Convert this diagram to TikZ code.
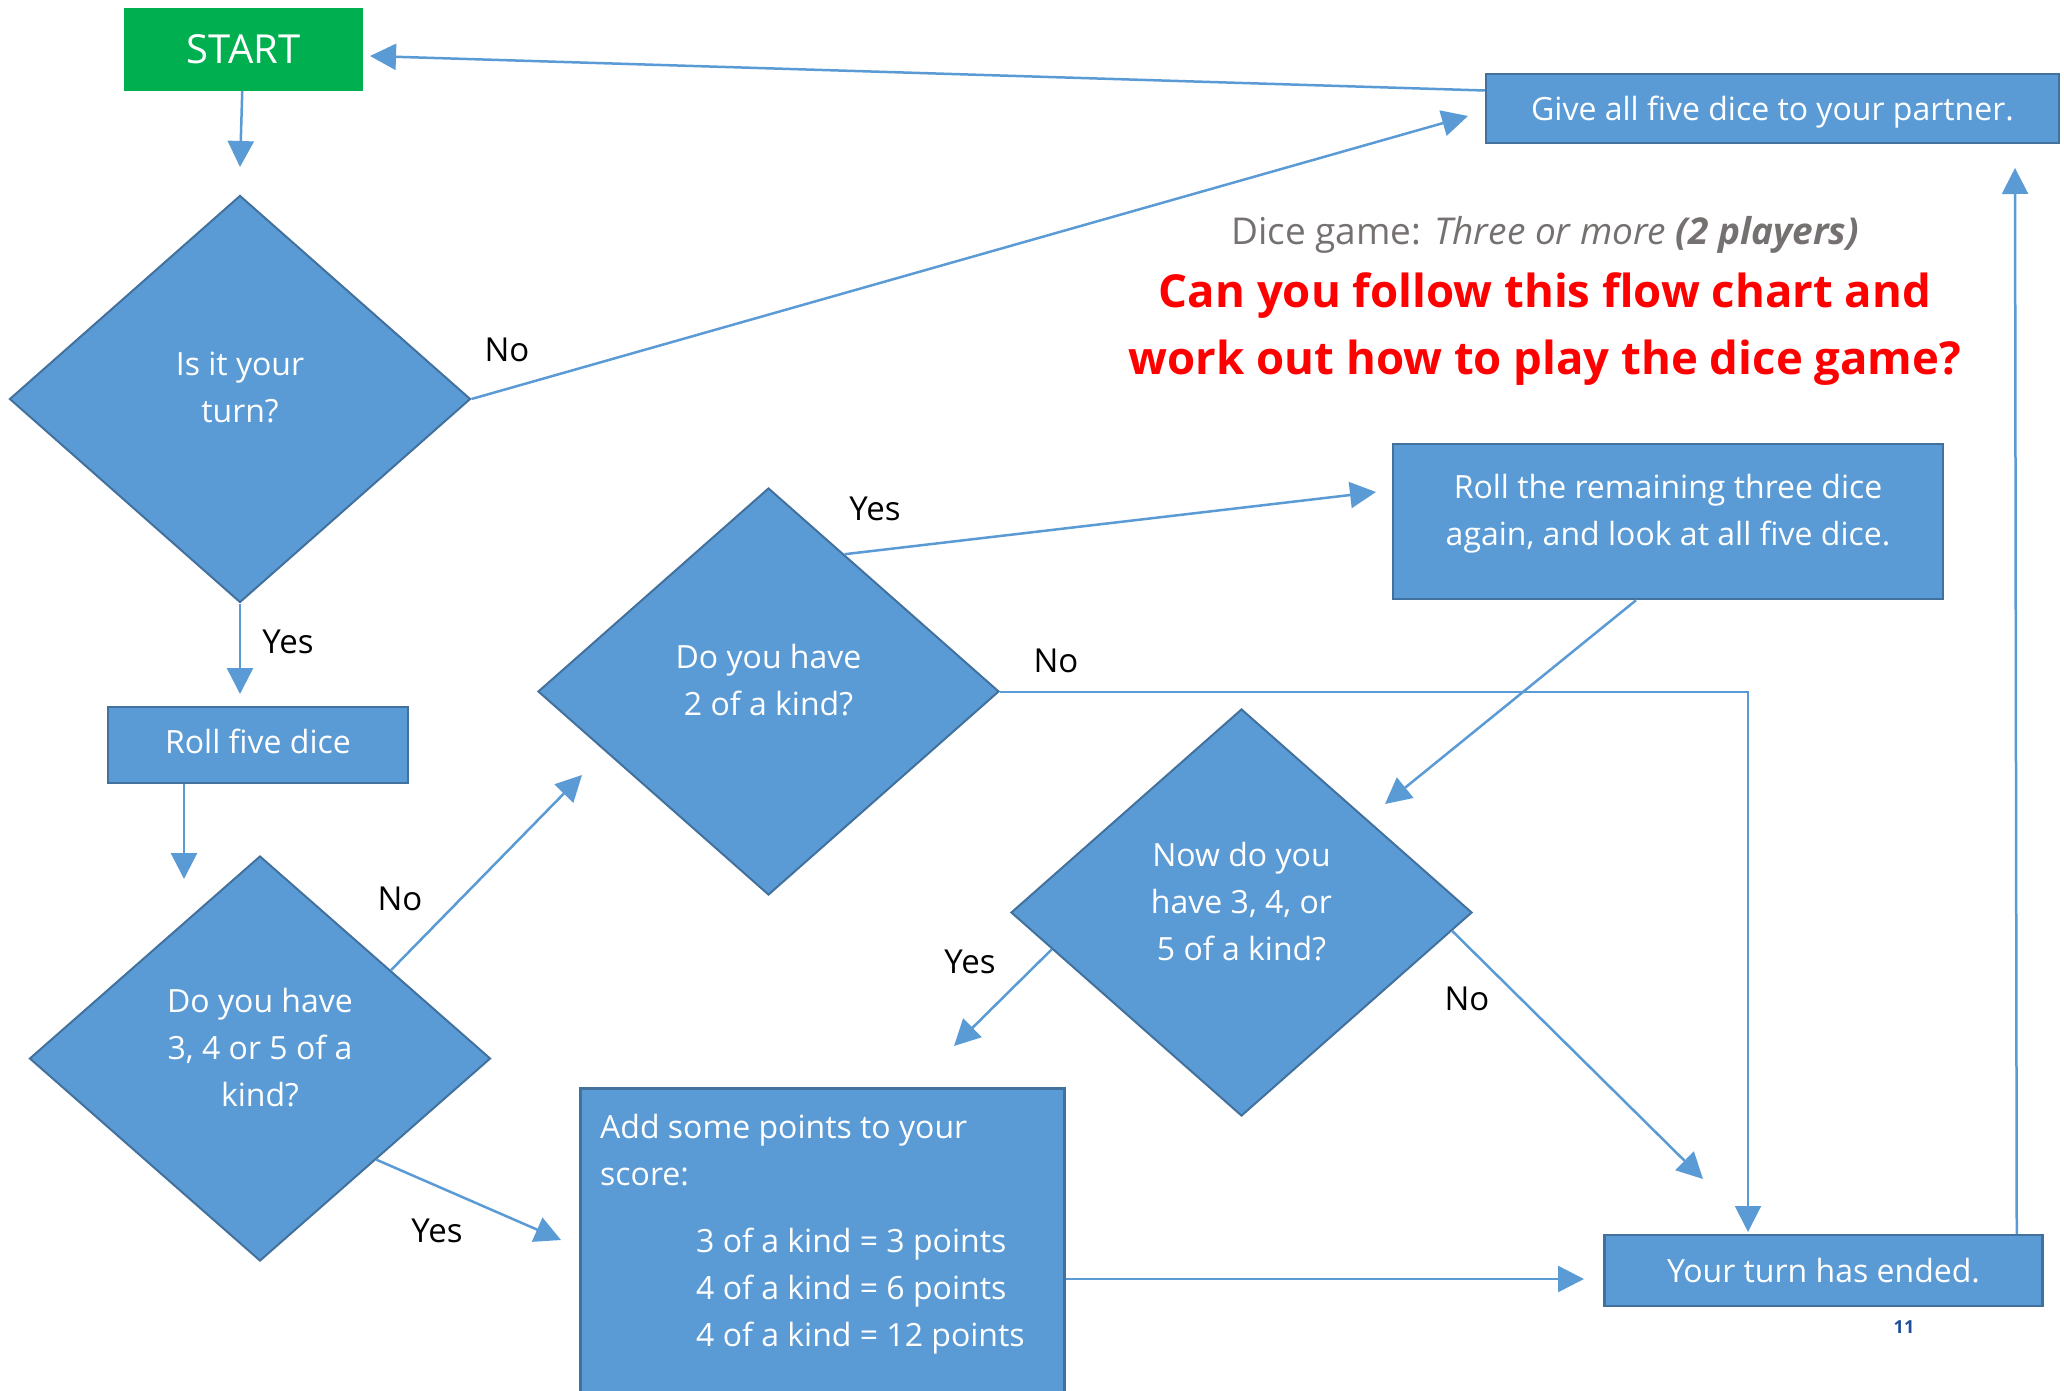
\documentclass[tikz,border=0pt]{standalone}
\usepackage{fontspec}
\setmainfont{Open Sans}
\usetikzlibrary{shapes.geometric,arrows.meta}
\definecolor{boxblue}{HTML}{5B9BD5}
\definecolor{boxedge}{HTML}{41719C}
\definecolor{startgreen}{HTML}{00B050}
\definecolor{titlegray}{HTML}{767171}
\definecolor{pagenum}{HTML}{1F4E9A}
\tikzset{
  procbox/.style={draw=boxedge, fill=boxblue, line width=2.5pt, text=white,
    font=\fontsize{32}{47}\selectfont, inner sep=0pt},
  decision/.style={diamond, draw=boxedge, fill=boxblue, line width=2pt,
    inner sep=0pt, minimum width=461pt, minimum height=407pt},
  boxtext/.style={text=white, align=center, inner sep=0pt,
    font=\fontsize{32}{47}\selectfont},
  flowline/.style={draw=boxblue, line width=2.5pt, -{Triangle[length=26pt,width=26pt]}},
  lbl/.style={text=black, font=\fontsize{33}{40}\selectfont}
}
\begin{document}
\begin{tikzpicture}[x=1pt,y=-1pt]
  \useasboundingbox[fill=white] (0,0) rectangle (2064,1391);
  \draw
    (243.5,49.5) node[fill=startgreen, text=white, minimum width=239pt, minimum height=83pt,
      font=\fontsize{40}{42}\selectfont] (start){START}
    (1772.5,108.5) node[procbox, minimum width=573pt, minimum height=69pt,
      text height=24pt, text depth=0pt] (give){Give all five dice to your partner.}
    (258,745) node[procbox, minimum width=300pt, minimum height=76pt,
      text height=24pt, text depth=8pt] (roll){Roll five dice}
    (1668,521.5) node[procbox, minimum width=550pt, minimum height=155pt] (reroll){}
    (1823.5,1270.5) node[procbox, minimum width=438pt, minimum height=71pt] (ended){Your turn has ended.}
    (579,1087) node[procbox, anchor=north west, minimum width=484pt, minimum height=360pt] (score){};
  \draw
    (1668,513.5) node[boxtext] (rerolltext){Roll the remaining three dice\\again, and look at all five dice.}
    (600,1114) node[boxtext, anchor=north west, align=left] (scorehead){Add some points to your\\score:}
    (696,1228) node[boxtext, anchor=north west, align=left] (scorelist){3 of a kind = 3 points\\4 of a kind = 6 points\\4 of a kind = 12 points};
  \draw
    (240,399) node[decision] (turn){}
    (260,1058.5) node[decision, minimum height=405pt] (three){}
    (768.5,691.5) node[decision] (two){}
    (1241.5,912.5) node[decision] (again){};
  \draw
    (240,387) node[boxtext] (turntext){Is it your\\turn?}
    (260,1047.5) node[boxtext] (threetext){Do you have\\3, 4 or 5 of a\\kind?}
    (768.5,680.5) node[boxtext] (twotext){Do you have\\2 of a kind?}
    (1241.5,901.5) node[boxtext] (againtext){Now do you\\have 3, 4, or\\5 of a kind?};
  \draw
    (1545,235) node[text=titlegray, font=\fontsize{37}{40}\selectfont] (title){Dice game: \textit{Three or more} \textbf{\textit{(2 players)}}}
    (1545,329.5) node[text=red, align=center, font=\bfseries\fontsize{45.5}{67}\selectfont] (question){Can you follow this flow chart and\\work out how to play the dice game?}
    (1904,1327) node[text=pagenum, font=\bfseries\fontsize{18}{20}\selectfont] (pageno){11};
  \draw
    (507,350) node[lbl] (no1){No}
    (288,642) node[lbl] (yes1){Yes}
    (400,899) node[lbl] (no2){No}
    (437,1231) node[lbl] (yes2){Yes}
    (875,509) node[lbl] (yes3){Yes}
    (1056,661) node[lbl] (no3){No}
    (970,962) node[lbl] (yes4){Yes}
    (1467,999) node[lbl] (no4){No};
  \coordinate (tipturn) at (240,167);
  \coordinate (tipstart) at (370,56);
  \coordinate (tipgive) at (1468,116);
  \coordinate (tiproll) at (240,694);
  \coordinate (tipthree) at (184,879);
  \coordinate (tiptwo) at (582,775);
  \coordinate (tipscore) at (561,1240);
  \coordinate (tipreroll) at (1376,492);
  \coordinate (tipendtop) at (1748,1232);
  \coordinate (nocorner) at (two.east -| tipendtop);
  \coordinate (tipagain) at (1385,804);
  \coordinate (tipscoreb) at (954,1046);
  \coordinate (tipendb) at (1703,1179);
  \coordinate (tipendl) at (1584,1279);
  \coordinate (tipgiveb) at (2015,168);
  \begin{scope}[flowline]
    \draw (start) to (tipturn);
    \draw ([yshift=18pt]give.west) to (tipstart);
    \draw (turn.east) to (tipgive);
    \draw (turn.south) to (tiproll);
    \draw ([xshift=-74pt]roll.south) to (tipthree);
    \draw (three.34.6) to (tiptwo);
    \draw (three.-41.4) to (tipscore);
    \draw (two.61.5) to (tipreroll);
    \draw[line width=2pt] (two.east) -- (nocorner) -- (tipendtop);
    \draw ([xshift=-32pt]reroll.south) to (tipagain);
    \draw (again.191) to (tipscoreb);
    \draw (again.-5.3) to (tipendb);
    \draw ([yshift=-192pt]score.north east) to (tipendl);
    \draw ([xshift=-27pt]ended.north east) to (tipgiveb);
  \end{scope}
\end{tikzpicture}
\end{document}
